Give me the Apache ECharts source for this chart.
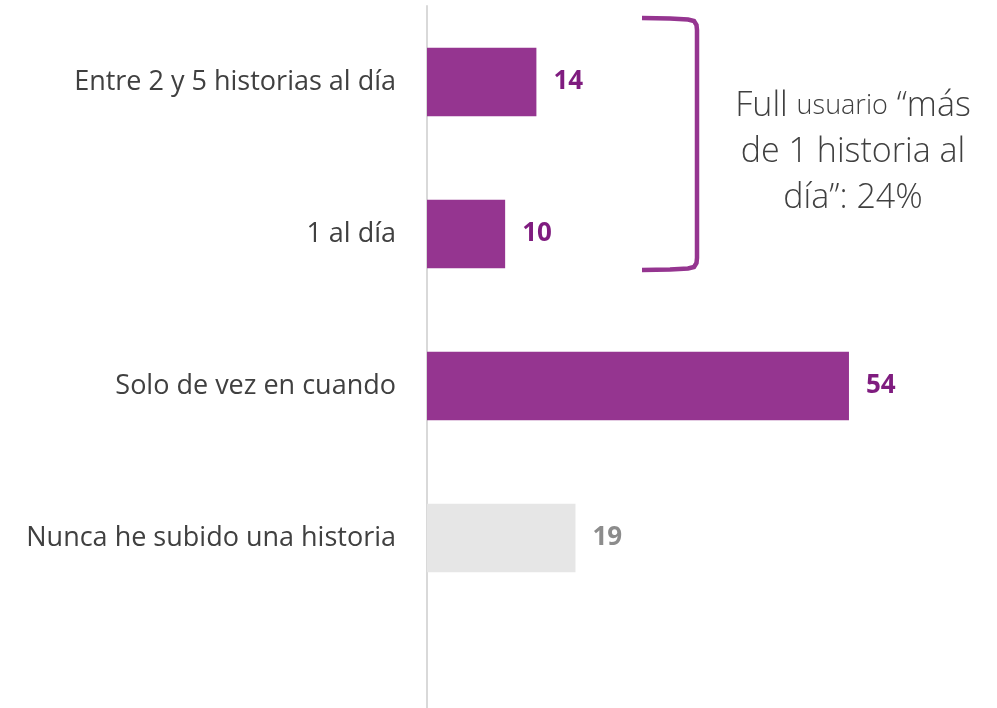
<!DOCTYPE html>
<html>
<head>
<meta charset="utf-8">
<script src="https://cdn.jsdelivr.net/npm/echarts@6/dist/echarts.min.js"></script>
<style>
  html, body { margin: 0; padding: 0; background: #fff; }
  #chart { width: 997px; height: 708px; }
</style>
</head>
<body>
<div id="chart"></div>
<script>
// categorías (la última vacía: el eje sigue hacia abajo)
const categories = [
  "Entre 2 y 5 historias al día",
  "1 al día",
  "Solo de vez en cuando",
  "Nunca he subido una historia",
  ""
];
const values = [14, 10, 54, 19, null];
const greyIndex = 3;

const purple = "#953590";
const purpleText = "#7f1c7f";
const grey = "#e6e6e6";
const greyText = "#8c8c8c";

const chart = echarts.init(document.getElementById("chart"));

const option = {
  animation: false,
  grid: {
    left: 427,
    right: 23,
    top: 6,
    bottom: -58,
    outerBoundsMode: "none"
  },
  xAxis: {
    type: "value",
    min: 0,
    max: 70,
    show: false
  },
  yAxis: {
    type: "category",
    inverse: true,
    data: categories,
    axisLine: {
      lineStyle: { color: "#d9d9d9", width: 2 }
    },
    axisTick: { show: false },
    axisLabel: {
      margin: 31,
      fontFamily: "Open Sans",
      fontSize: 27,
      color: "#404040"
    }
  },
  series: [
    {
      type: "bar",
      barWidth: "45%",
      data: values.map((v, i) => ({
        value: v,
        itemStyle: { color: i === greyIndex ? grey : purple },
        label: { color: i === greyIndex ? greyText : purpleText }
      })),
      label: {
        show: true,
        position: "right",
        distance: 17,
        fontFamily: "Open Sans",
        fontWeight: "bold",
        fontSize: 26
      }
    }
  ],
  graphic: [
    // llave que agrupa las dos primeras barras
    {
      type: "polyline",
      shape: {
        points: [
          [642, 18], [670, 18.5], [688, 19.5], [694, 21], [696.5, 25],
          [697, 30], [697, 258],
          [696.5, 263], [694, 267], [688, 268.5], [670, 269.5], [642, 270]
        ]
      },
      style: { fill: null, stroke: purple, lineWidth: 4.5 }
    },
    {
      type: "text",
      x: 853,
      y: 152,
      style: {
        text: "{a|Full }{b|usuario}{a| “más}\n{a|de 1 historia al}\n{a|día”: 24%}",
        align: "center",
        verticalAlign: "middle",
        fill: "#404040",
        rich: {
          a: { fontFamily: "Open Sans", fontWeight: 300, fontSize: 34, lineHeight: 46, fill: "#404040" },
          b: { fontFamily: "Open Sans", fontWeight: 300, fontSize: 27, lineHeight: 46, fill: "#404040" }
        }
      }
    }
  ]
};

chart.setOption(option);
</script>
</body>
</html>
